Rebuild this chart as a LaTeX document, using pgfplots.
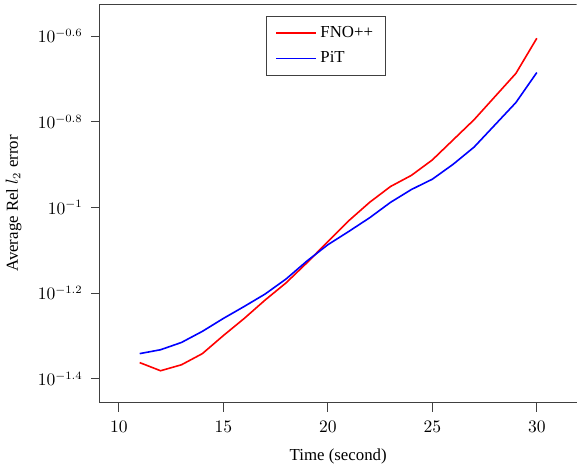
\documentclass[border=0pt]{standalone}
\usepackage{pgfplots}
\pgfplotsset{compat=1.18}
\usepackage{fontspec}
\setmainfont{Liberation Serif}
\begin{document}
\fontsize{10.5}{12.5}\selectfont
\begin{tikzpicture}
\begin{axis}[
  scale only axis,
  width=297.5pt, height=249pt,
  ymode=log,
  xmin=9.1, xmax=31.9,
  ymin=0.035, ymax=0.2985,
  xtick={10,15,20,25,30},
  ytick={0.0398107,0.0630957,0.1,0.1584893,0.2511886},
  yticklabels={$10^{-1.4}$,$10^{-1.2}$,$10^{-1}$,$10^{-0.8}$,$10^{-0.6}$},
  tick align=outside,
  tick pos=left,
  axis y line*=left, axis x line*=bottom,
  axis line style={black!75, line width=0.6pt},
  tick style={black!75, line width=0.6pt},
  major tick length=5.6pt,
  every tick label/.append style={font=\fontsize{10.5}{12.5}\selectfont},
  xticklabel style={yshift=-2pt},
  yticklabel style={xshift=-1.5pt},
  xlabel={Time (second)},
  ylabel={Average Rel $l_2$ error},
  xlabel style={font=\fontsize{10.5}{12.5}\selectfont, yshift=-3pt},
  ylabel style={font=\fontsize{10.5}{12.5}\selectfont, yshift=3pt},
  legend style={at={(0.349,0.97)}, anchor=north west, draw=black!75, line width=0.6pt, row sep=3.5pt, inner xsep=5.5pt, inner ysep=4pt, font=\fontsize{10.5}{12.5}\selectfont},
  legend cell align=left,
  legend image code/.code={\draw[#1, line width=1pt] (0pt,0pt) -- (25pt,0pt);},
]
\addplot[red, line width=1pt] coordinates {
(11,0.04345) (12,0.04159) (13,0.04295) (14,0.04560) (15,0.05023) (16,0.05508) (17,0.06081) (18,0.06668) (19,0.07430) (20,0.08318) (21,0.09311) (22,0.10280) (23,0.11194) (24,0.11885) (25,0.12912) (26,0.14388) (27,0.16032) (28,0.18155) (29,0.20559) (30,0.24831)
};
\addlegendentry{FNO++}
\addplot[blue, line width=1pt] coordinates {
(11,0.04560) (12,0.04656) (13,0.04842) (14,0.05140) (15,0.05508) (16,0.05875) (17,0.06281) (18,0.06808) (19,0.07499) (20,0.08185) (21,0.08790) (22,0.09462) (23,0.10280) (24,0.11015) (25,0.11641) (26,0.12618) (27,0.13836) (28,0.15596) (29,0.17579) (30,0.20654)
};
\addlegendentry{PiT}
\draw[black!75, line width=0.6pt] (rel axis cs:0,1) -- (rel axis cs:1,1);
\end{axis}
\path ([yshift=2.5pt]current axis.north);
\end{tikzpicture}
\end{document}
